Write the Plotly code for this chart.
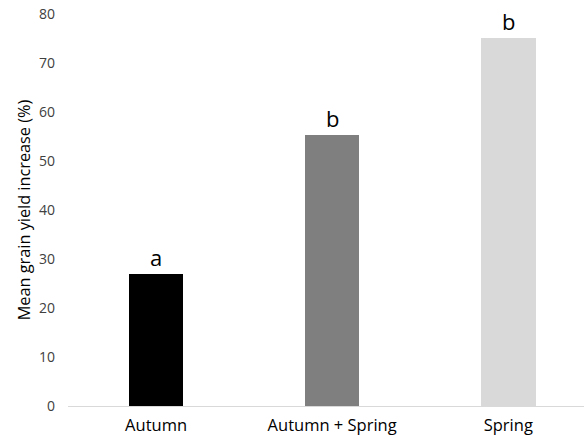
import plotly.graph_objects as go

# Mean grain yield increase by application timing
categories = ["Autumn", "Autumn + Spring", "Spring"]
yield_increase = [26.9, 55.3, 75.1]
group_letters = ["a", "b", "b"]
bar_colors = ["#000000", "#7f7f7f", "#d9d9d9"]
y_ticks = [0, 10, 20, 30, 40, 50, 60, 70, 80]

font_family = "'Open Sans', sans-serif"

fig = go.Figure(
    go.Bar(
        x=categories,
        y=yield_increase,
        marker=dict(color=bar_colors, line=dict(width=0)),
        width=0.31,
        showlegend=False,
    )
)

# significance letters above each bar
for cat, val, letter in zip(categories, yield_increase, group_letters):
    fig.add_annotation(
        x=cat, y=val, text=letter, showarrow=False,
        yanchor="bottom", yshift=0,
        font=dict(family=font_family, size=22, color="#000000"),
    )

fig.update_layout(
    width=584, height=443,
    margin=dict(l=68, r=0, t=14, b=37),
    paper_bgcolor="white", plot_bgcolor="white",
    font=dict(family=font_family, color="#404040"),
    bargap=0,
)
fig.update_xaxes(
    range=[-0.5, 2.43],
    showline=True, linecolor="#d9d9d9", linewidth=1,
    showgrid=False, ticks="",
    tickfont=dict(size=16.5, color="#000000"),
    ticklabelstandoff=4,
)
fig.update_yaxes(
    range=[0, 80], tickvals=y_ticks,
    showgrid=False, showline=False, zeroline=False, ticks="",
    tickfont=dict(size=14, color="#404040"),
    ticklabelstandoff=12,
    title=dict(text="Mean grain yield increase (%)",
               font=dict(size=16.3, color="#000000"), standoff=4),
)

fig.write_html("out.html")
